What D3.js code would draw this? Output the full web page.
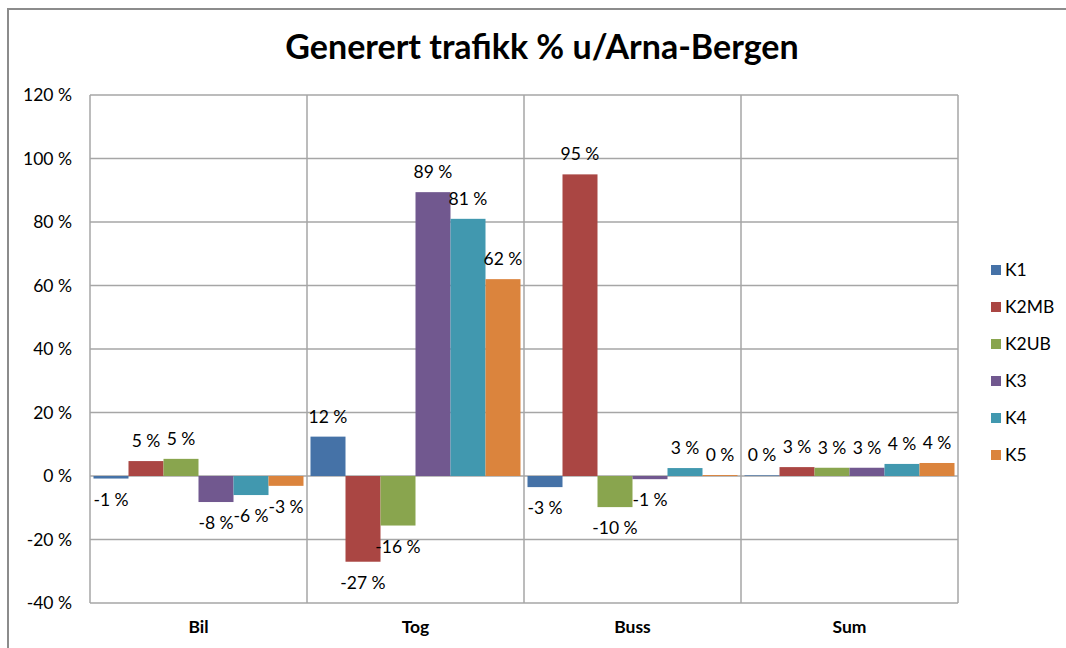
<!DOCTYPE html>
<html><head><meta charset="utf-8">
<script src="https://cdn.jsdelivr.net/npm/d3@7"></script>
<style>body{margin:0;background:#fff}svg{display:block}</style>
</head><body>
<svg id="chart" width="1066" height="648"></svg>
<script>
const categories = ["Bil", "Tog", "Buss", "Sum"];
const seriesNames = ["K1", "K2MB", "K2UB", "K3", "K4", "K5"];
const K1 = [-0.8, 12.4, -3.5, 0.2];
const K2MB = [4.7, -27, 95, 2.8];
const K2UB = [5.4, -15.6, -9.8, 2.6];
const K3 = [-8.2, 89.4, -1, 2.6];
const K4 = [-6, 81, 2.5, 3.8];
const K5 = [-3.1, 62, 0.3, 4.1];
const colors = ["#4572A7", "#AA4643", "#89A54E", "#71588F", "#4198AF", "#DB843D"];
const yTicks = [-40, -20, 0, 20, 40, 60, 80, 100, 120];
const title = "Generert trafikk % u/Arna-Bergen";

const seriesValues = [K1, K2MB, K2UB, K3, K4, K5];
const font = "Lato, 'Open Sans', sans-serif";
const fs = 17.5;
const svg = d3.select("#chart");

// frame
svg.append("path").attr("d", "M8,648 L8,9 L1066,9")
  .attr("fill", "none").attr("stroke", "#8c8c8c").attr("stroke-width", 2);

const L = 90, R = 958, T = 95, B = 603;
const x0 = d3.scaleBand().domain(categories).range([L, R]).paddingInner(0).paddingOuter(0);
const x1 = d3.scaleBand().domain(seriesNames).range([0, x0.bandwidth()]).paddingOuter(0.1);
const y = d3.scaleLinear().domain([-40, 120]).range([B, T]);

// gridlines
const g = svg.append("g");
g.selectAll("line.h").data(yTicks).join("line")
  .attr("x1", L).attr("x2", R).attr("y1", d => y(d)).attr("y2", d => y(d))
  .attr("stroke", "#a6a6a6").attr("stroke-width", 1.5);
const vb = categories.map(c => x0(c)).concat([R]);
g.selectAll("line.v").data(vb).join("line")
  .attr("x1", d => d).attr("x2", d => d).attr("y1", T).attr("y2", B)
  .attr("stroke", "#a6a6a6").attr("stroke-width", 1.5);

// y axis labels
const yAxis = d3.axisLeft(y).tickValues(yTicks).tickSize(0).tickPadding(18).tickFormat(d => d + " %");
const ya = svg.append("g").attr("transform", `translate(${L},0)`).call(yAxis);
ya.select(".domain").remove();
ya.selectAll("text").attr("font-family", font).attr("font-size", fs).attr("fill", "#000");

// x axis labels
const xAxis = d3.axisBottom(x0).tickSize(0).tickPadding(18);
const xa = svg.append("g").attr("transform", `translate(0,${B})`).call(xAxis);
xa.select(".domain").remove();
xa.selectAll("text").attr("font-family", font).attr("font-size", fs).attr("font-weight", "bold").attr("fill", "#000");

// bars
const bars = [];
categories.forEach((c, ci) => {
  seriesNames.forEach((s, si) => {
    bars.push({c, s, si, v: seriesValues[si][ci]});
  });
});
svg.append("g").selectAll("rect").data(bars).join("rect")
  .attr("x", d => x0(d.c) + x1(d.s))
  .attr("width", x1.bandwidth())
  .attr("y", d => y(Math.max(0, d.v)))
  .attr("height", d => Math.abs(y(d.v) - y(0)))
  .attr("fill", d => colors[d.si]);

// labels
svg.append("g").selectAll("text").data(bars).join("text")
  .attr("x", d => x0(d.c) + x1(d.s) + x1.bandwidth() / 2)
  .attr("y", d => d.v >= 0 ? y(d.v) - 14 : y(d.v) + 21)
  .attr("dy", d => d.v >= 0 ? "0" : "0.35em")
  .attr("text-anchor", "middle")
  .attr("font-family", font).attr("font-size", fs).attr("fill", "#000")
  .text(d => Math.round(d.v) + " %");

// title
svg.append("text").attr("x", 542).attr("y", 59).attr("text-anchor", "middle")
  .attr("font-family", font).attr("font-size", 34).attr("font-weight", "bold")
  .text(title);

// legend
const lg = svg.append("g");
seriesNames.forEach((s, i) => {
  const yy = 270 + i * 37;
  lg.append("rect").attr("x", 991).attr("y", yy - 5).attr("width", 10).attr("height", 10).attr("fill", colors[i]);
  lg.append("text").attr("x", 1005).attr("y", yy).attr("dy", "0.35em")
    .attr("font-family", font).attr("font-size", fs).text(s);
});
</script>
</body></html>
